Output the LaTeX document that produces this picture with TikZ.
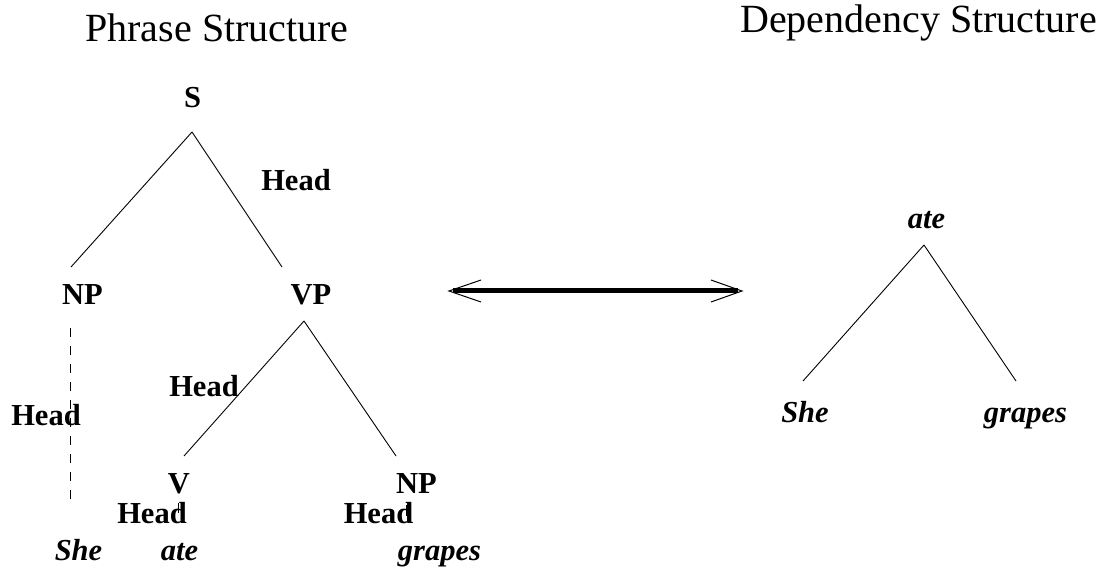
\documentclass[tikz,border=0pt]{standalone}
\usepackage{fontspec}
\setmainfont{Liberation Serif}
\begin{document}
\begin{tikzpicture}[x=1pt,y=-1pt,
  title/.style={font=\fontsize{40}{46}\selectfont, anchor=base, inner sep=0pt},
  cat/.style={font=\fontsize{30.5}{36}\selectfont\bfseries, anchor=base, inner sep=0pt},
  word/.style={font=\fontsize{30.5}{36}\selectfont\bfseries\itshape, anchor=base, inner sep=0pt},
  edge/.style={line width=0.9pt},
  dashedge/.style={line width=0.9pt, dash pattern=on 9pt off 9pt},
  shaft/.style={line width=5pt},
  barb/.style={line width=1pt}]
\useasboundingbox (0,0) rectangle (1103,569);
% titles
\node[title] (tps) at (217,42) {Phrase Structure};
\node[title] (tds) at (918.5,33) {Dependency Structure};
% phrase structure tree
\node[cat] (S) at (192.5,108) {S};
\node[cat] (h1) at (296,191) {Head};
\node[cat] (NPa) at (82.5,305) {NP};
\node[cat] (VP) at (311,305) {VP};
\node[cat] (h2) at (46,425) {Head};
\node[cat] (h3) at (204,396) {Head};
\node[cat] (V) at (179,493) {V};
\node[cat] (NPb) at (416.5,493) {NP};
\node[cat] (h4) at (152,523) {Head};
\node[cat] (h5) at (378.5,523) {Head};
\node[word] (she) at (78.5,560) {She};
\node[word] (ate) at (179.5,560) {ate};
\node[word] (grapes) at (439.5,560) {grapes};
% line end points
\coordinate (S-b) at (192,132);
\coordinate (NPa-t) at (71,267);
\coordinate (VP-t) at (282,267);
\coordinate (NPa-b) at (70,328);
\coordinate (she-t) at (70,500);
\coordinate (VP-b) at (304,321);
\coordinate (V-t) at (184,456);
\coordinate (NPb-t) at (396,456);
\coordinate (V-b) at (178,503);
\coordinate (ate-t) at (178,513);
\coordinate (NPb-b) at (406,505);
\coordinate (grapes-t) at (406,516);
\draw[edge] (S-b) -- (NPa-t);
\draw[edge] (S-b) -- (VP-t);
\draw[dashedge] (NPa-b) -- (she-t);
\draw[edge] (VP-b) -- (V-t);
\draw[edge] (VP-b) -- (NPb-t);
\draw[edge] (V-b) -- (ate-t);
\draw[edge] (NPb-b) -- (grapes-t);
% double arrow
\coordinate (arrL) at (449,291);
\coordinate (arrR) at (742,291);
\coordinate (arrLu) at (481,280);
\coordinate (arrLd) at (481,302);
\coordinate (arrRu) at (711,280);
\coordinate (arrRd) at (711,302);
\draw[shaft] ([xshift=4pt]arrL) -- ([xshift=-4pt]arrR);
\draw[barb] (arrLu) -- (arrL) -- (arrLd);
\draw[barb] (arrRu) -- (arrR) -- (arrRd);
% dependency structure
\node[word] (date) at (926.5,229) {ate};
\node[word] (dshe) at (805,422) {She};
\node[word] (dgrapes) at (1025.5,422) {grapes};
\coordinate (date-b) at (924,245);
\coordinate (dshe-t) at (803,381);
\coordinate (dgrapes-t) at (1016,381);
\draw[edge] (date-b) -- (dshe-t);
\draw[edge] (date-b) -- (dgrapes-t);
\end{tikzpicture}
\end{document}
